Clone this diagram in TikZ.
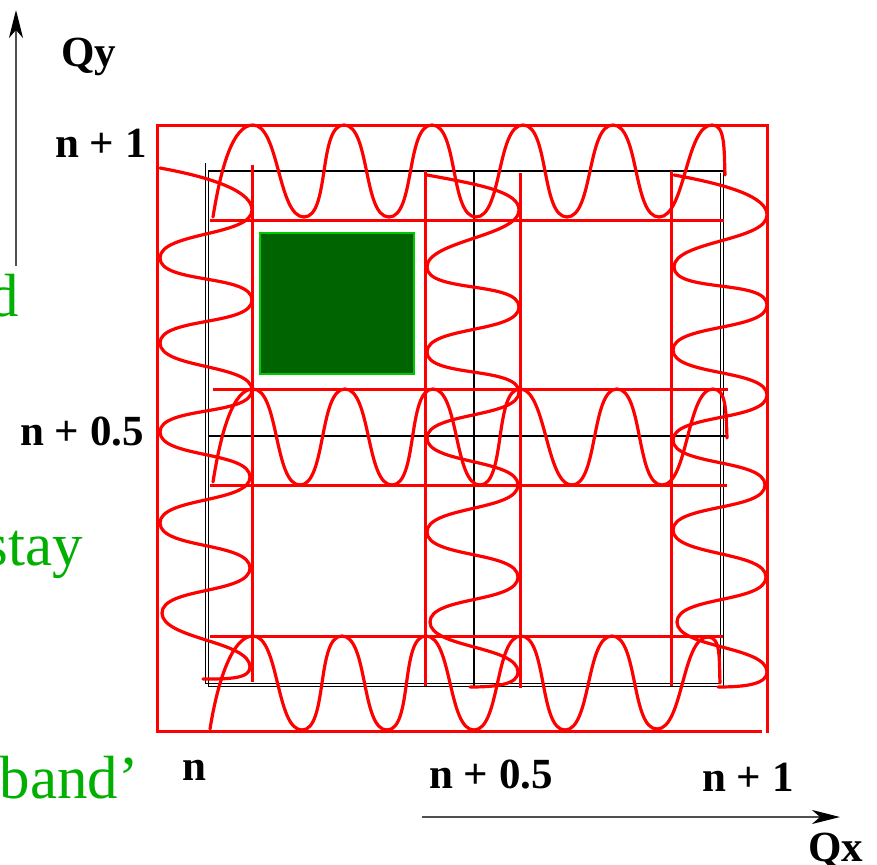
\documentclass[tikz,border=0pt]{standalone}
\usepackage{fontspec}
\setmainfont{Liberation Serif}
\usetikzlibrary{arrows.meta}
\definecolor{gtext}{RGB}{0,175,0}
\definecolor{gfill}{RGB}{0,100,0}
\definecolor{gedge}{RGB}{0,200,0}
\definecolor{axisgray}{RGB}{80,80,80}
\tikzset{
  redline/.style={draw=red, line width=3.0pt},
  wave/.style={draw=red, line width=3.2pt, line cap=round},
  blackline/.style={draw=black, line width=1.3pt},
  hseg/.style={to path={.. controls +(26,0) and +(-26,0) .. (\tikztotarget)}},
  vseg/.style={to path={.. controls +(0,26) and +(0,-26) .. (\tikztotarget)}},
  lbl/.style={inner sep=0pt, anchor=base west, font=\fontsize{43}{43}\selectfont\bfseries},
  gtxt/.style={inner sep=0pt, anchor=base east, text=gtext, font=\fontsize{61}{61}\selectfont},
  axisarrow/.style={draw=axisgray, line width=2pt, -{Stealth[length=28pt,width=14pt,inset=8pt,black]}}
}
\begin{document}
\begin{tikzpicture}[x=1pt, y=-1pt]
\useasboundingbox (0,0) rectangle (877,864);
\clip (0,0) rectangle (877,864);

% axes
\coordinate (qy0) at (16,266);
\coordinate (qy1) at (16,10);
\coordinate (qx0) at (422,817);
\coordinate (qx1) at (840,817);
\draw[axisarrow] (qy0) -- (qy1);
\draw[axisarrow] (qx0) -- (qx1);

% black squares and mid lines
\draw[blackline] (208.5,171) rectangle (723.5,686.5);
\draw[blackline] (205.5,163) -- (205.5,683.5) -- (720.5,683.5) -- (720.5,173);
\draw[blackline] (208,436) -- (727,436);
\draw[blackline] (474,171) -- (474,686);

% red frame
\draw[redline] (767,733) -- (767,125) -- (157,125) -- (157,731) -- (762,731);

% red grid lines
\draw[redline] (210,220) -- (724,220);
\draw[redline] (213,389) -- (728,389);
\draw[redline] (210,485) -- (727,485);
\draw[redline] (210,636) -- (723,636);
\draw[redline] (252,165) -- (252,682);
\draw[redline] (425,171) -- (425,686);
\draw[redline] (520,173) -- (520,688);
\draw[redline] (671,171) -- (671,686);

% horizontal waves
\draw[wave] (213,217) .. controls +(8,-50) and +(-20,0) .. (253,125)
  to[hseg] (304,217) to[hseg] (344,125) to[hseg] (389,217) to[hseg] (432,125)
  to[hseg] (476,217) to[hseg] (523,125) to[hseg] (567,217) to[hseg] (613,125)
  to[hseg] (659,217) to[hseg] (712,125) .. controls +(13,0) and +(-1,-28) .. (725,175);
\draw[wave] (213,482) .. controls +(8,-50) and +(-20,0) .. (253,389)
  to[hseg] (300,485) to[hseg] (345,389) to[hseg] (392,485) to[hseg] (433,389)
  to[hseg] (480,485) to[hseg] (520,389) to[hseg] (572,485) to[hseg] (617,389)
  to[hseg] (662,485) to[hseg] (713,389) .. controls +(13,0) and +(-1,-28) .. (727,438);
\draw[wave] (210,729) .. controls +(8,-50) and +(-20,0) .. (253,636)
  to[hseg] (302,730) to[hseg] (342,636) to[hseg] (387,730) to[hseg] (426,636)
  to[hseg] (474,730) to[hseg] (521,636) to[hseg] (565,730) to[hseg] (612,636)
  to[hseg] (657,729) to[hseg] (708,637) .. controls +(13,0) and +(-1,-24) .. (720,683);

% vertical waves
\draw[wave] (160,168) .. controls +(55,10) and +(0,-18) .. (252,210)
  to[vseg] (160,258) to[vseg] (252,300) to[vseg] (160,343) to[vseg] (252,390)
  to[vseg] (160,432) to[vseg] (250,477) to[vseg] (160,523) to[vseg] (250,568)
  to[vseg] (162,613) to[vseg] (250,667) .. controls +(0,12) and +(25,0) .. (203,679);
\draw[wave] (427,175) .. controls +(55,10) and +(0,-18) .. (519,210)
  to[vseg] (427,267) to[vseg] (519,307) to[vseg] (427,352) to[vseg] (519,392)
  to[vseg] (427,438) to[vseg] (518,485) to[vseg] (427,532) to[vseg] (518,577)
  to[vseg] (430,622) to[vseg] (518,672) .. controls +(0,12) and +(28,0) .. (470,687);
\draw[wave] (674,175) .. controls +(55,10) and +(0,-18) .. (767,215)
  to[vseg] (674,267) to[vseg] (767,305) to[vseg] (673,350) to[vseg] (767,395)
  to[vseg] (673,440) to[vseg] (765,485) to[vseg] (673,530) to[vseg] (766,577)
  to[vseg] (677,622) to[vseg] (767,672) .. controls +(0,12) and +(28,0) .. (718,687);

% green square
\draw[draw=gedge, fill=gfill, line width=1.5pt] (260,233) rectangle (414,374);

% labels
\node[lbl] (lqy) at (61,67) {Qy};
\node[lbl] (lyn1) at (55,157) {n + 1};
\node[lbl] (lyn05) at (20,445) {n + 0.5};
\node[lbl] (lxn) at (182,780) {n};
\node[lbl] (lxn05) at (429,788) {n + 0.5};
\node[lbl] (lxn1) at (702,791) {n + 1};
\node[lbl] (lqx) at (808,861) {Qx};

% green text (cut at the left edge)
\node[gtxt] (gd) at (19,316) {d};
\node[gtxt] (gstay) at (83,565) {stay};
\node[gtxt] (gband) at (139,798) {band’};
\end{tikzpicture}
\end{document}
